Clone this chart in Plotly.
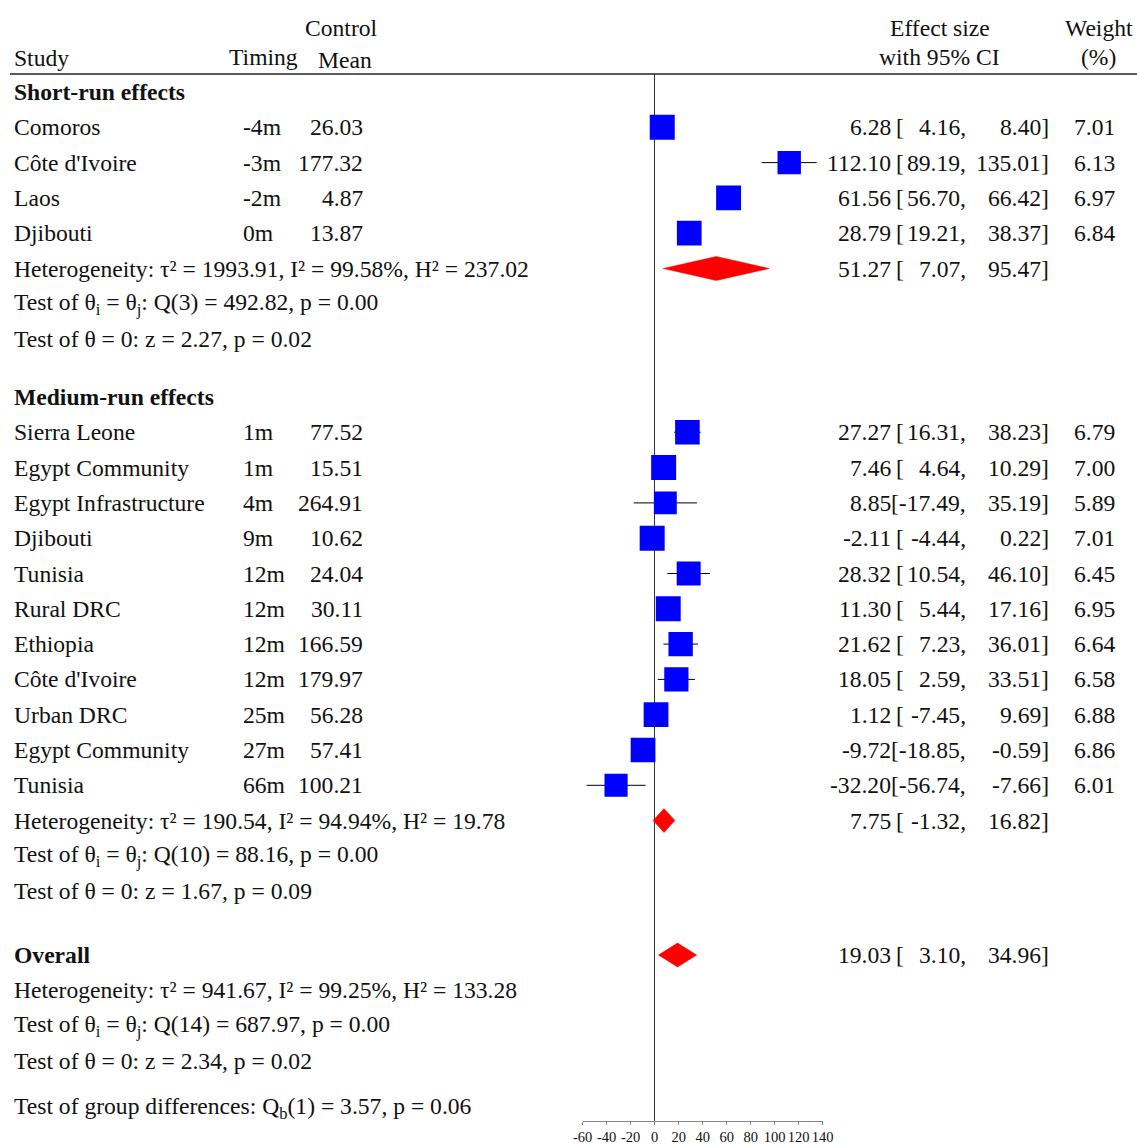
import plotly.graph_objects as go

# ---------------- data ----------------
short_studies = ["Comoros", "Côte d'Ivoire", "Laos", "Djibouti"]
short_timing = ["-4m", "-3m", "-2m", "0m"]
short_mean = ["26.03", "177.32", "4.87", "13.87"]
short_es = [6.28, 112.10, 61.56, 28.79]
short_lo = [4.16, 89.19, 56.70, 19.21]
short_hi = [8.40, 135.01, 66.42, 38.37]
short_w = [7.01, 6.13, 6.97, 6.84]
short_pool = [51.27, 7.07, 95.47]
short_stats = ["Heterogeneity: τ² = 1993.91, I² = 99.58%, H² = 237.02",
               "Test of θ<sub>i</sub> = θ<sub>j</sub>: Q(3) = 492.82, p = 0.00",
               "Test of θ = 0: z = 2.27, p = 0.02"]

med_studies = ["Sierra Leone", "Egypt Community", "Egypt Infrastructure", "Djibouti",
               "Tunisia", "Rural DRC", "Ethiopia", "Côte d'Ivoire", "Urban DRC",
               "Egypt Community", "Tunisia"]
med_timing = ["1m", "1m", "4m", "9m", "12m", "12m", "12m", "12m", "25m", "27m", "66m"]
med_mean = ["77.52", "15.51", "264.91", "10.62", "24.04", "30.11", "166.59", "179.97",
            "56.28", "57.41", "100.21"]
med_es = [27.27, 7.46, 8.85, -2.11, 28.32, 11.30, 21.62, 18.05, 1.12, -9.72, -32.20]
med_lo = [16.31, 4.64, -17.49, -4.44, 10.54, 5.44, 7.23, 2.59, -7.45, -18.85, -56.74]
med_hi = [38.23, 10.29, 35.19, 0.22, 46.10, 17.16, 36.01, 33.51, 9.69, -0.59, -7.66]
med_w = [6.79, 7.00, 5.89, 7.01, 6.45, 6.95, 6.64, 6.58, 6.88, 6.86, 6.01]
med_pool = [7.75, -1.32, 16.82]
med_stats = ["Heterogeneity: τ² = 190.54, I² = 94.94%, H² = 19.78",
             "Test of θ<sub>i</sub> = θ<sub>j</sub>: Q(10) = 88.16, p = 0.00",
             "Test of θ = 0: z = 1.67, p = 0.09"]

overall_pool = [19.03, 3.10, 34.96]
overall_stats = ["Heterogeneity: τ² = 941.67, I² = 99.25%, H² = 133.28",
                 "Test of θ<sub>i</sub> = θ<sub>j</sub>: Q(14) = 687.97, p = 0.00",
                 "Test of θ = 0: z = 2.34, p = 0.02"]
group_diff = "Test of group differences: Q<sub>b</sub>(1) = 3.57, p = 0.06"

x_ticks = [-60, -40, -20, 0, 20, 40, 60, 80, 100, 120, 140]

# ---------------- layout helpers ----------------
W, H = 1137, 1145
FONT = "Liberation Serif, Times New Roman, serif"
FS = 23.6
ROW = 35.3
Y0 = 92  # pixel of row 0
PLOT_TOP, PLOT_BOT = 74, 1121
PAD = 2  # annotation padding compensation


def r_of(pxv):
    return (pxv - Y0) / ROW


def paper_y(pxv):
    return (PLOT_BOT - pxv) / (PLOT_BOT - PLOT_TOP)

# row positions
short_rows = [1, 2, 3, 4]
short_pool_row = 5
short_stat_rows = [5, 6, 7]
med_head_row = r_of(397)
med_rows = [med_head_row + 1 + i for i in range(len(med_studies))]
med_pool_row = med_rows[-1] + 1
med_stat_rows = [med_pool_row, med_pool_row + 1, med_pool_row + 2]
overall_row = r_of(955)
overall_stat_rows = [overall_row + 1, overall_row + 2, overall_row + 3]
group_row = r_of(1108)


def px(xpix):
    return xpix / W


fig = go.Figure()
annotations = []


def txt(x, y, text, anchor="left", bold=False, yref="y"):
    if anchor == "left":
        x -= PAD
    elif anchor == "right":
        x += PAD
    annotations.append(dict(
        x=px(x), xref="paper", y=y, yref=yref, text=("<b>%s</b>" % text) if bold else text,
        showarrow=False, xanchor=anchor, yanchor="middle",
        font=dict(family=FONT, size=FS, color="#111111")))


def effect_text(r, e, l, h):
    txt(891, r, "%.2f" % e, anchor="right")
    if l <= -10:
        txt(966, r, "[%.2f," % l, anchor="right")
    else:
        txt(896, r, "[")
        txt(966, r, "%.2f," % l, anchor="right")
    txt(1049, r, "%.2f]" % h, anchor="right")


def study_block(rows, studies, timing, mean, es, lo, hi, w):
    xs, ys = [], []
    for r, l, h in zip(rows, lo, hi):
        xs += [l, h, None]
        ys += [r, r, None]
    fig.add_trace(go.Scatter(x=xs, y=ys, mode="lines",
                             line=dict(color="black", width=1), hoverinfo="skip",
                             showlegend=False))
    fig.add_trace(go.Scatter(
        x=es, y=rows, mode="markers",
        marker=dict(symbol="square", color="#0000ff", opacity=1,
                    size=[25 * (wi / 7.01) ** 0.5 for wi in w],
                    line=dict(width=0)),
        showlegend=False))
    for r, s, t, m, e, l, h, wi in zip(rows, studies, timing, mean, es, lo, hi, w):
        txt(14, r, s)
        txt(243, r, t)
        txt(363, r, m, anchor="right")
        effect_text(r, e, l, h)
        txt(1115, r, "%.2f" % wi, anchor="right")


def diamond(row, pool):
    e, l, h = pool
    hh = 12 / ROW
    fig.add_trace(go.Scatter(x=[l, e, h, e, l], y=[row, row - hh, row, row + hh, row],
                             mode="lines", fill="toself", fillcolor="#ff0000",
                             line=dict(color="#ff0000", width=0.5), hoverinfo="skip",
                             showlegend=False))
    effect_text(row, e, l, h)


# headers (paper coordinates, above the plot area)
txt(14, paper_y(58), "Study", yref="paper")
txt(263, paper_y(57), "Timing", anchor="center", yref="paper")
txt(341, paper_y(28), "Control", anchor="center", yref="paper")
txt(345, paper_y(60), "Mean", anchor="center", yref="paper")
txt(940, paper_y(28), "Effect size", anchor="center", yref="paper")
txt(939, paper_y(57), "with 95% CI", anchor="center", yref="paper")
txt(1099, paper_y(28), "Weight", anchor="center", yref="paper")
txt(1098, paper_y(57), "(%)", anchor="center", yref="paper")

# short-run
txt(14, 0, "Short-run effects", bold=True)
study_block(short_rows, short_studies, short_timing, short_mean, short_es, short_lo, short_hi, short_w)
diamond(short_pool_row, short_pool)
for r, s in zip(short_stat_rows, short_stats):
    txt(14, r, s)

# medium-run
txt(14, med_head_row, "Medium-run effects", bold=True)
study_block(med_rows, med_studies, med_timing, med_mean, med_es, med_lo, med_hi, med_w)
diamond(med_pool_row, med_pool)
for r, s in zip(med_stat_rows, med_stats):
    txt(14, r, s)

# overall
txt(14, overall_row, "Overall", bold=True)
diamond(overall_row, overall_pool)
for r, s in zip(overall_stat_rows, overall_stats):
    txt(14, r, s)
txt(14, group_row, group_diff)

y_top = r_of(PLOT_TOP)
y_bot = r_of(PLOT_BOT)

fig.update_layout(
    width=W, height=H,
    margin=dict(l=0, r=0, t=PLOT_TOP, b=H - PLOT_BOT, autoexpand=False),
    paper_bgcolor="white", plot_bgcolor="white",
    showlegend=False,
    annotations=annotations,
    xaxis=dict(domain=[px(582.7), px(822.7)], range=[-60, 140],
               tickvals=x_ticks, ticktext=[str(v) for v in x_ticks],
               tickangle=0, automargin=False,
               showgrid=False, zeroline=True, zerolinecolor="#333333", zerolinewidth=1.3,
               showline=True, linecolor="#888888", linewidth=1,
               ticks="outside", ticklen=3, tickcolor="#888888",
               tickfont=dict(family=FONT, size=14.5, color="#111111")),
    yaxis=dict(range=[y_bot, y_top], visible=False, showgrid=False, zeroline=False,
               automargin=False),
    shapes=[dict(type="line", xref="paper", yref="paper", x0=px(10), x1=1, y0=1, y1=1,
                 line=dict(color="#222222", width=1.3))],
)

fig.write_html("out.html", config={"displayModeBar": False},
               post_script="document.body.style.margin='0';document.body.style.padding='0';")
